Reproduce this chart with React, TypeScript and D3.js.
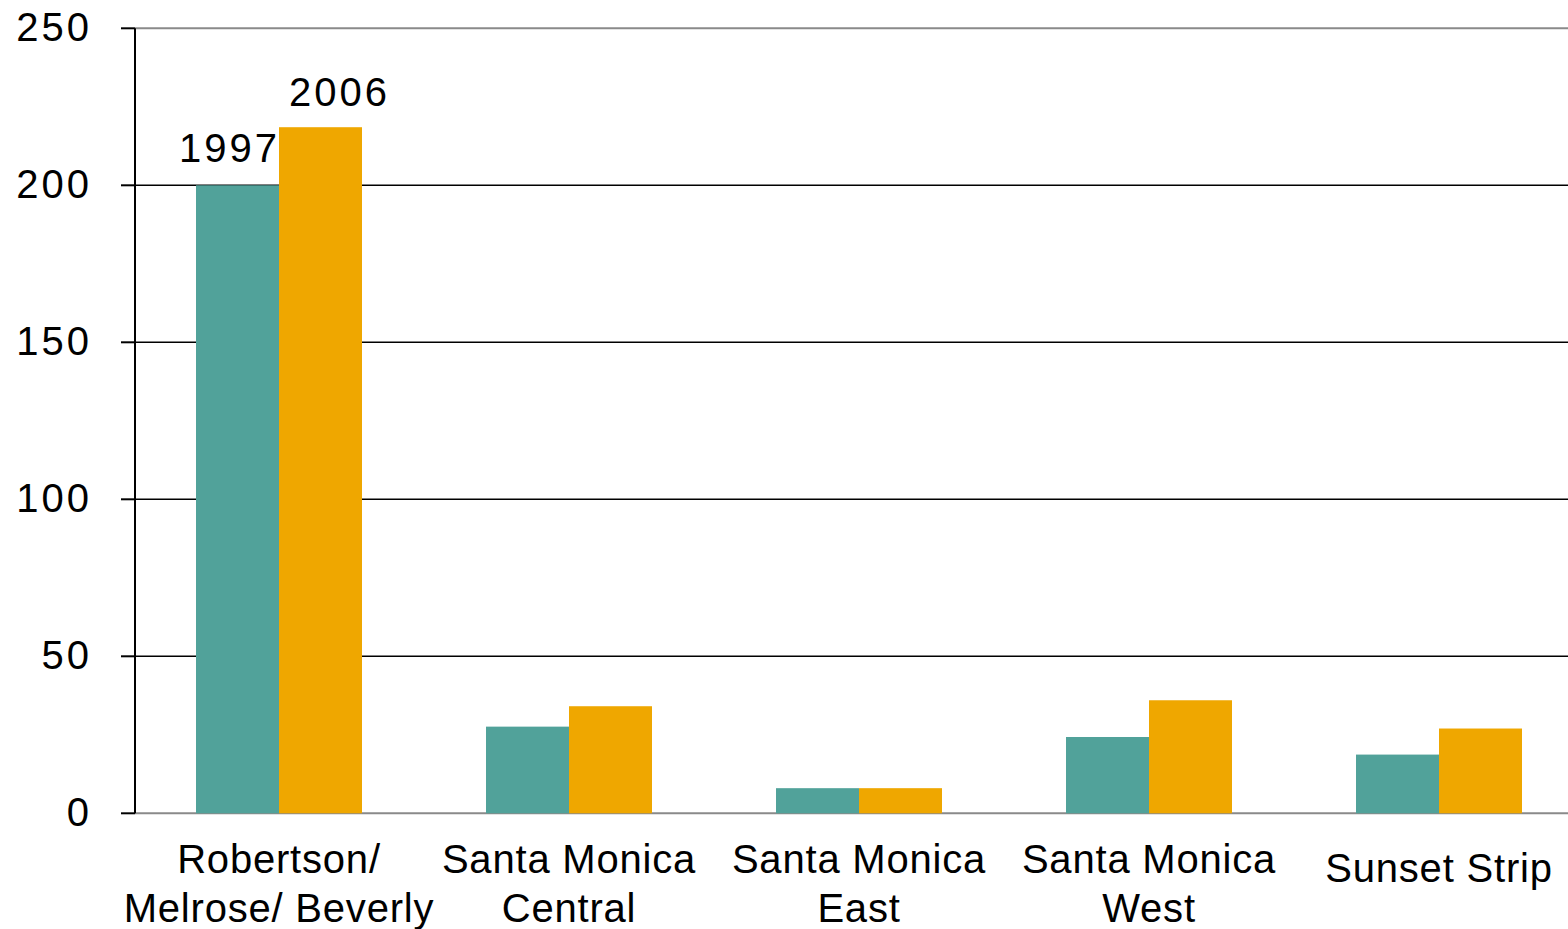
import React from "react";
import * as d3 from "d3";

// Store counts by district, 1997 vs 2006
const districts = [
  "Robertson/ Melrose/ Beverly",
  "Santa Monica Central",
  "Santa Monica East",
  "Santa Monica West",
  "Sunset Strip",
];
const districtLines: string[][] = [
  ["Robertson/", "Melrose/ Beverly"],
  ["Santa Monica", "Central"],
  ["Santa Monica", "East"],
  ["Santa Monica", "West"],
  ["Sunset Strip"],
];
const years = ["1997", "2006"];
const values1997 = [200, 27.6, 8, 24.3, 18.7];
const values2006 = [218.5, 34.1, 8, 36, 27];
const yTicks = [0, 50, 100, 150, 200, 250];

const W = 1568;
const H = 929;
const colors = ["#51A29A", "#EFA700"];
const font = "'Liberation Sans', Arial, sans-serif";

export default function App() {
  const axisX = 135;
  const y = d3.scaleLinear().domain([0, 250]).range([813.3, 28.3]);
  const x = d3
    .scaleBand<string>()
    .domain(districts)
    .range([134, 1584])
    .paddingInner(0.4276)
    .paddingOuter(0.2138);
  const x1 = d3.scaleBand<string>().domain(years).range([0, x.bandwidth()]);
  const series = [values1997, values2006];

  return (
    <svg
      width={W}
      height={H}
      style={{ position: "absolute", left: 0, top: 0, background: "#fff" }}
      fontFamily={font}
    >
      {/* gridlines */}
      {yTicks.map((t) => (
        <line
          key={"g" + t}
          x1={axisX}
          x2={W}
          y1={y(t)}
          y2={y(t)}
          stroke={t === 0 || t === 250 ? "#8a8a8a" : "#000"}
          strokeWidth={t === 0 || t === 250 ? 2 : 1.5}
        />
      ))}
      {/* bars */}
      {districts.map((d, i) => (
        <g key={d} transform={`translate(${x(d)},0)`}>
          {years.map((yr, j) => {
            const v = series[j][i];
            return (
              <rect
                key={yr}
                x={x1(yr)}
                y={y(v)}
                width={x1.bandwidth()}
                height={y(0) - y(v)}
                fill={colors[j]}
              />
            );
          })}
        </g>
      ))}
      {/* y axis */}
      <line x1={axisX} x2={axisX} y1={y(250)} y2={y(0)} stroke="#000" strokeWidth={2} />
      {yTicks.map((t) => (
        <g key={"t" + t}>
          <line x1={121} x2={axisX} y1={y(t)} y2={y(t)} stroke="#000" strokeWidth={2} />
          <text
            x={92}
            y={y(t) + 13}
            textAnchor="end"
            fontSize={40}
            letterSpacing={3}
            fill="#000"
          >
            {t}
          </text>
        </g>
      ))}
      {/* year labels over the first group */}
      <text
        x={(x(districts[0]) as number) + (x1(years[0]) as number) + x1.bandwidth() + 1}
        y={y(values1997[0]) - 23}
        textAnchor="end"
        fontSize={40}
        letterSpacing={3}
      >
        {years[0]}
      </text>
      <text
        x={(x(districts[0]) as number) + (x1(years[1]) as number) + 10}
        y={y(values2006[0]) - 21}
        textAnchor="start"
        fontSize={40}
        letterSpacing={3}
      >
        {years[1]}
      </text>
      {/* category labels */}
      {districts.map((d, i) => {
        const cx = (x(d) as number) + x.bandwidth() / 2;
        const lines = districtLines[i];
        const base = lines.length === 1 ? 882 : 873;
        return (
          <text
            key={"c" + d}
            textAnchor="middle"
            fontSize={40}
            letterSpacing={0.8}
            fill="#000"
          >
            {lines.map((ln, k) => (
              <tspan key={k} x={cx} y={base + k * 49}>
                {ln}
              </tspan>
            ))}
          </text>
        );
      })}
    </svg>
  );
}
